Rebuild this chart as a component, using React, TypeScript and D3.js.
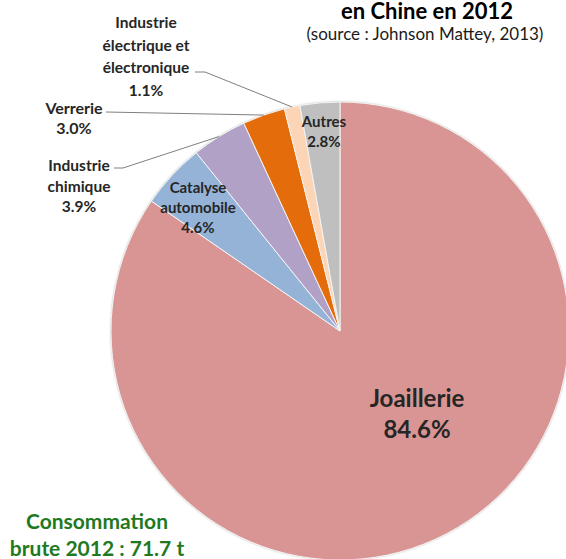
import React from "react";
import * as d3 from "d3";

const categories = [
  "Joaillerie",
  "Catalyse automobile",
  "Industrie chimique",
  "Verrerie",
  "Industrie électrique et électronique",
  "Autres",
];
const values = [84.6, 4.6, 3.9, 3.0, 1.1, 2.8];
const labelLines = [
  ["Joaillerie", "84.6%"],
  ["Catalyse", "automobile", "4.6%"],
  ["Industrie", "chimique", "3.9%"],
  ["Verrerie", "3.0%"],
  ["Industrie", "électrique et", "électronique", "1.1%"],
  ["Autres", "2.8%"],
];
const colors = ["#D99594", "#95B3D7", "#B2A1C7", "#E46C0A", "#FBD5B5", "#BFBFBF"];

const W = 566;
const H = 559;
const cx = 340;
const cy = 331;
const R = 229;
const FONT = "Lato, 'Open Sans', sans-serif";

// label layout: center x, first-line center y, line height, font size, leader start
const labelLayout = [
  { x: 417, y: 397, lh: 31, fs: 24, leader: null },
  { x: 198, y: 187, lh: 20, fs: 15, leader: null },
  { x: 79, y: 165, lh: 20.5, fs: 15.5, leader: [114, 168, 123, 168] },
  { x: 74, y: 107, lh: 20, fs: 16, leader: [106, 112, 106, 112] },
  { x: 146, y: 22, lh: 22.5, fs: 15.5, leader: [195, 72, 205, 72] },
  { x: 324, y: 121, lh: 19.5, fs: 15, leader: null },
];

export default function App() {
  const pie = d3
    .pie<number>()
    .sort(null)
    .value((d) => d);
  const arcs = pie(values);
  const arcGen = d3.arc<d3.PieArcDatum<number>>().innerRadius(0).outerRadius(R);
  const edge = d3.arc<d3.PieArcDatum<number>>().innerRadius(R).outerRadius(R);

  return (
    <svg
      width={W}
      height={H}
      style={{ position: "absolute", left: 0, top: 0, background: "#fff" }}
      fontFamily={FONT}
    >
      <defs>
        <filter id="sh" x="-10%" y="-10%" width="120%" height="120%">
          <feDropShadow dx="0" dy="0" stdDeviation="1" floodColor="#000" floodOpacity="0.35" />
        </filter>
      </defs>
      <text x={427} y={19} textAnchor="middle" fontSize={22} fontWeight="bold" fill="#000">
        en Chine en 2012
      </text>
      <text x={425} y={40} textAnchor="middle" fontSize={17} fill="#1a1a1a">
        (source : Johnson Mattey, 2013)
      </text>
      <g transform={`translate(${cx},${cy})`}>
        <circle r={R} fill="#ccc" filter="url(#sh)" />
        {arcs.map((a, i) => (
          <path key={categories[i]} d={arcGen(a) || ""} fill={colors[i]} stroke="#f4f4f4" strokeWidth={1} />
        ))}
      </g>
      {arcs.map((a, i) => {
        const L = labelLayout[i];
        if (!L.leader) return null;
        const [px, py] = edge.centroid(a);
        return (
          <polyline
            key={"l" + i}
            points={`${L.leader[0]},${L.leader[1]} ${L.leader[2]},${L.leader[3]} ${cx + px},${cy + py}`}
            fill="none"
            stroke="#7f7f7f"
            strokeWidth={1}
          />
        );
      })}
      {labelLines.map((lines, i) => {
        const L = labelLayout[i];
        return (
          <text
            key={"t" + i}
            textAnchor="middle"
            fontSize={L.fs}
            fontWeight="bold"
            fill="#262626"
          >
            {lines.map((s, j) => (
              <tspan key={j} x={L.x} y={L.y + j * L.lh} dominantBaseline="central">
                {s}
              </tspan>
            ))}
          </text>
        );
      })}
      <text textAnchor="middle" fontSize={21} fontWeight="bold" fill="#1F7A1F">
        <tspan x={97} y={520} dominantBaseline="central">Consommation</tspan>
        <tspan x={97} y={547} dominantBaseline="central">brute 2012 : 71.7 t</tspan>
      </text>
    </svg>
  );
}
